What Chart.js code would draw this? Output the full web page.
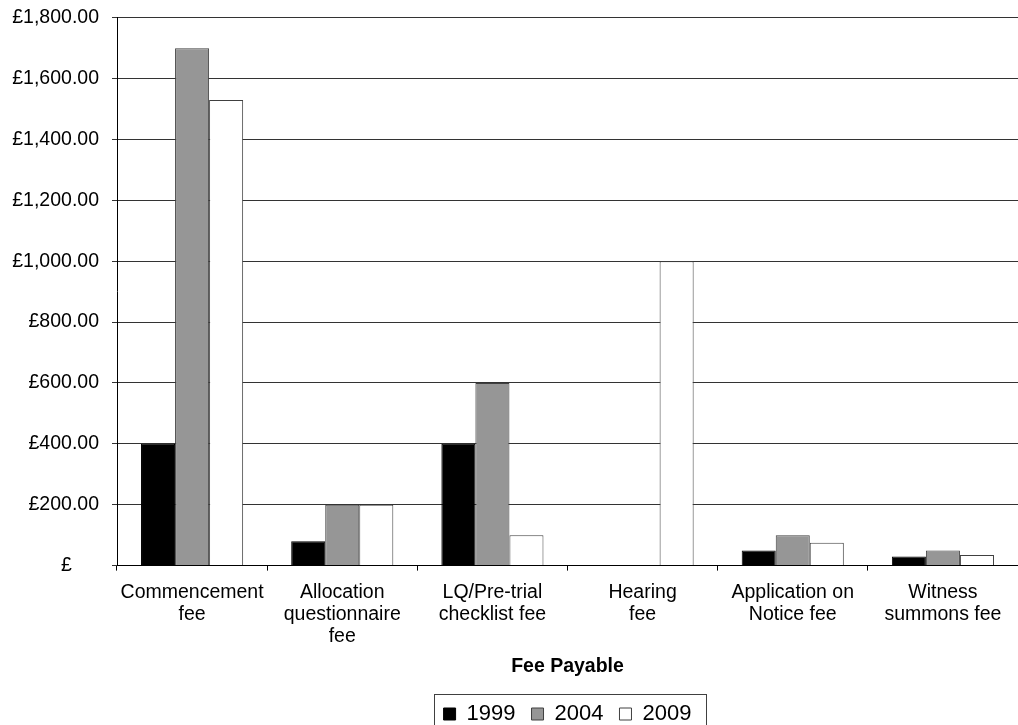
<!DOCTYPE html>
<html>
<head>
<meta charset="utf-8">
<script src="https://cdn.jsdelivr.net/npm/chart.js@4/dist/chart.umd.min.js"></script>
<style>
html,body{margin:0;padding:0;background:#fff;overflow:hidden;}
#wrap{width:1018px;height:742px;position:relative;margin-top:-7px;}
</style>
</head>
<body>
<div id="wrap"><canvas id="c"></canvas></div>
<script>
const categories = [
  ["Commencement", "fee"],
  ["Allocation", "questionnaire", "fee"],
  ["LQ/Pre-trial", "checklist fee"],
  ["Hearing", "fee"],
  ["Application on", "Notice fee"],
  ["Witness", "summons fee"]
];
const seriesNames = ["1999", "2004", "2009"];
const fees1999 = [400, 80, 400, null, 50, 30];
const fees2004 = [1700, 200, 600, null, 100, 50];
const fees2009 = [1530, 200, 100, 1000, 75, 35];
const yTicks = [0, 200, 400, 600, 800, 1000, 1200, 1400, 1600, 1800];
const xTitle = "Fee Payable";

const FONT = "'Liberation Sans', Arial, sans-serif";

const legendPlace = {
  id: 'legendPlace',
  afterLayout(chart) {
    const l = chart.legend;
    if (!l) return;
    const ca = chart.chartArea;
    const shift = (ca.left + ca.right) / 2 - (l.left + l.right) / 2;
    l.left += shift;
    l.right += shift;
    if (l.legendHitBoxes) l.legendHitBoxes.forEach(h => { h.left += shift; });
  },
  afterDraw(chart) {
    const boxes = chart.legend && chart.legend.legendHitBoxes;
    if (!boxes || !boxes.length) return;
    const first = boxes[0], last = boxes[boxes.length - 1];
    const left = Math.round(first.left - 10) + 0.5;
    const right = Math.round(last.left + last.width + 15) + 0.5;
    const top = Math.round(first.top - 9) + 0.5;
    const bottom = Math.round(first.top + first.height + 14) + 0.5;
    const ctx = chart.ctx;
    ctx.save();
    ctx.strokeStyle = '#404040';
    ctx.lineWidth = 1;
    ctx.strokeRect(left, top, right - left, bottom - top);
    ctx.restore();
  }
};

new Chart(document.getElementById('c'), {
  type: 'bar',
  data: {
    labels: categories,
    datasets: [
      { label: seriesNames[0], data: fees1999, backgroundColor: '#000000', borderColor: '#000000', borderWidth: 1 },
      { label: seriesNames[1], data: fees2004, backgroundColor: '#969696', borderColor: '#404040', borderWidth: 1 },
      { label: seriesNames[2], data: fees2009, backgroundColor: '#ffffff', borderColor: '#404040', borderWidth: 1 }
    ]
  },
  options: {
    responsive: true,
    maintainAspectRatio: false,
    animation: false,
    layout: { padding: { top: 10, right: 0, left: 0, bottom: 0 } },
    datasets: { bar: { categoryPercentage: 0.68, barPercentage: 1.0, borderSkipped: 'start' } },
    plugins: {
      tooltip: { enabled: false },
      legend: {
        position: 'bottom',
        labels: {
          font: { family: FONT, size: 22 },
          color: '#000',
          boxWidth: 12,
          boxHeight: 12,
          padding: 16
        }
      }
    },
    scales: {
      x: {
        offset: true,
        grid: { offset: true, drawOnChartArea: false, drawTicks: true, tickLength: 5, color: '#000' },
        border: { color: '#000', width: 1 },
        ticks: { font: { family: FONT, size: 19.5, lineHeight: 1.128 }, color: '#000', padding: 11, maxRotation: 0, autoSkip: false },
        title: { display: true, text: xTitle, font: { family: FONT, size: 19.5, weight: 'bold' }, color: '#000', padding: { top: -4, bottom: 9 } }
      },
      y: {
        min: 0,
        max: 1800,
        afterBuildTicks(scale) { scale.ticks = yTicks.map(v => ({ value: v })); },
        afterFit(scale) { scale.width = 117; },
        grid: { color: '#333', drawTicks: true, tickLength: 5 },
        border: { color: '#000', width: 1 },
        ticks: {
          font: { family: FONT, size: 19.5 },
          color: '#000',
          padding: 13,
          callback(v) {
            if (v === 0) return '£     ';
            return '£' + Number(v).toLocaleString('en-GB', { minimumFractionDigits: 2, maximumFractionDigits: 2 });
          }
        }
      }
    }
  },
  plugins: [legendPlace]
});
</script>
</body>
</html>
